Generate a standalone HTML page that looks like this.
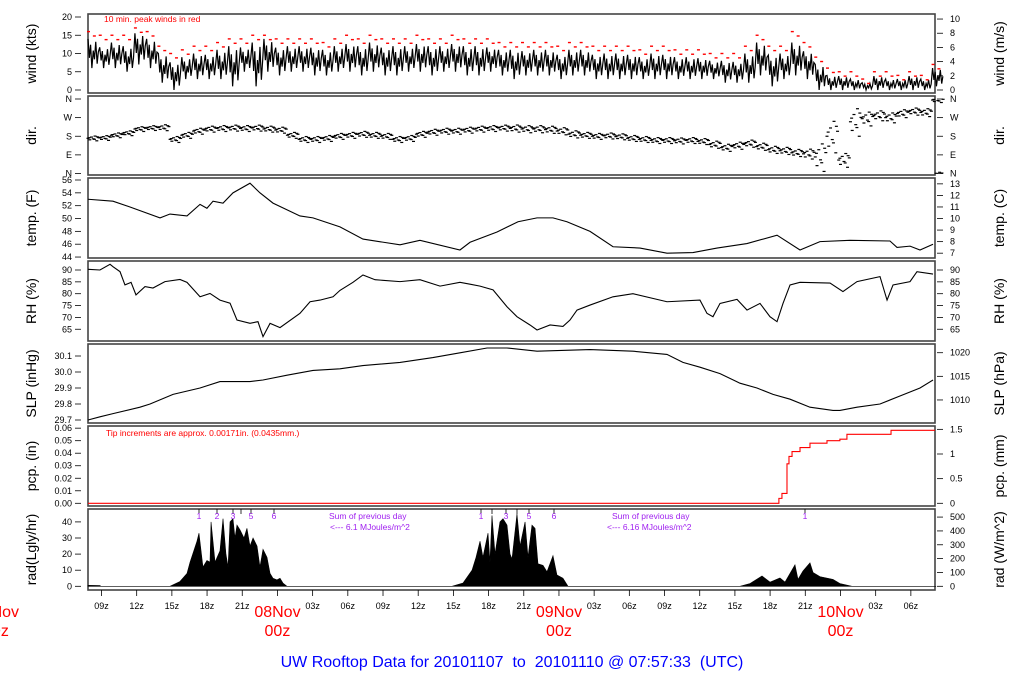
<!DOCTYPE html>
<html><head><meta charset="utf-8"><style>
html,body{margin:0;padding:0;background:#fff;}
svg{display:block;font-family:"Liberation Sans",sans-serif;}
</style></head><body>
<svg id="c" width="1024" height="700" viewBox="0 0 1024 700"></svg>
<script>
// ---- data (time t = hours since record start, 07Nov ~07:51Z) ----
const windHi=[14,12,13,12,16,14,10,8,9,10,10,11,12,12,13,14,12,12,12,12,11,12,13,12,13,12,12,12,13,12,12,13,12,12,12,11,11,11,11,11,10,11,11,10,10,10,10,9,10,10,9,9,9,8,8,8,10,13,10,10,13,11,7,4,4,3,2,4,3,3,4,3,6];
const windLo=[6,6,6,5,7,6,2,0,3,3,3,3,1,5,1,5,4,5,5,4,4,5,5,4,5,4,4,5,5,4,5,5,4,4,5,4,3,4,4,4,3,4,4,3,3,3,3,3,3,3,3,3,3,3,2,2,2,4,1,3,4,3,0,0,0,0,0,0,0,0,0,0,1];
const gust=[16,15,15,15,17,16,12,10,11,12,12,13,14,14,15,15,14,14,14,14,13,14,15,14,15,14,14,14,15,14,14,15,14,14,14,13,13,13,13,13,12,13,13,12,12,12,12,11,12,12,11,11,11,10,10,10,12,15,12,12,16,13,9,6,5,5,3,5,5,4,5,4,7];
const dirDeg=[170,172,185,195,215,220,222,165,185,205,215,218,220,218,220,215,210,185,165,165,170,180,185,190,185,180,165,170,190,200,205,205,210,215,218,220,218,215,215,212,205,190,185,180,182,178,170,165,160,160,158,160,155,140,125,135,145,130,115,110,100,95,80,180,65,250,265,280,270,290,300,295,355];
const dirSpread=[12,12,12,12,12,12,15,15,15,15,15,15,15,15,15,15,15,15,15,15,15,15,15,15,15,15,15,15,15,15,15,15,15,15,15,15,18,18,18,18,18,18,15,15,15,15,15,15,15,15,15,15,15,18,18,18,18,18,18,18,18,25,70,80,35,70,35,25,25,20,18,20,12];
const tempT=[0,2.13,3.58,6.14,6.99,8.44,9.55,10.14,10.66,11.51,12.36,13.81,14.66,15.77,18.07,19.18,21.48,23.44,26.6,28.3,31.71,32.57,34.87,36.66,38.28,39.64,40.83,42.8,44.76,47.06,49.36,51.58,53.62,56.18,58.74,60.7,62.4,64.96,68.37,68.97,70.08,70.93,72.04];
const tempF=[53.0,52.7,51.8,50.1,50.7,50.4,52.2,51.6,52.7,52.4,54.0,55.5,54.0,52.4,50.4,50.1,48.7,46.8,45.9,46.6,45.1,46.3,47.9,49.5,50.1,50.1,49.5,48.0,45.6,45.4,44.6,44.7,45.4,46.1,47.4,45.1,46.4,46.6,46.5,45.5,45.7,45.1,46.0];
const rhT=[0,1.02,1.88,2.13,2.73,3.15,3.67,4.09,4.86,5.54,6.56,7.84,8.44,9.55,10.4,11.25,12.11,12.7,13.81,14.49,14.92,15.52,16.37,18.07,18.93,19.78,20.89,21.48,22.59,23.44,24.47,26.6,28.3,30.01,31.71,32.57,33.42,34.53,35.72,36.57,37.68,38.28,39.39,40.49,41.09,41.69,42.8,44.76,46.46,49.36,52.17,52.77,53.28,53.88,55.33,56.18,57.29,58.14,58.74,59.25,59.85,60.7,63.26,64.36,65.56,67.52,68.12,68.63,70.08,70.67,72.04];
const rhV=[90.3,90,92.4,91.4,89.3,83.7,84.8,79.5,83,82.4,85.1,86,84.8,78.7,80.1,77.3,76,68.9,67.5,68.2,61.9,67.5,65.7,71.7,76.6,77.3,78.7,81.4,84.8,87.9,85.9,85.1,85.9,83.2,84.8,84,83.2,81.6,74.5,70.3,66.8,64.7,66.8,66.2,68.9,73.1,75.2,78.7,80,76.6,77.3,71.7,70.3,75.9,77.6,73.1,75.9,70.3,68.2,75.9,83.7,84.8,84.5,80.9,85.1,87.2,77.3,83.7,85.1,89.3,88.3];
const slpT=[0,1.02,2.13,4.43,5.29,7.25,9.55,11.25,13.81,14.92,16.97,19.18,21.48,23.44,26.6,29.41,31.71,34.02,35.72,38.28,42.8,46.46,49.36,50.72,52.17,53.88,55.58,57.03,58.4,59.85,61.55,63.51,64.1,65.56,67.52,69.22,70.93,72.04];
const slpV=[29.70,29.72,29.74,29.78,29.80,29.86,29.90,29.94,29.94,29.95,29.98,30.01,30.02,30.04,30.06,30.09,30.12,30.15,30.15,30.13,30.14,30.13,30.11,30.06,30.03,29.99,29.93,29.90,29.86,29.83,29.78,29.76,29.76,29.78,29.80,29.85,29.90,29.95];
const pcpT=[0,58.9,59.16,59.51,59.59,59.76,60.02,60.7,61.55,63.0,64.1,64.7,68.46,72.2];
const pcpMM=[0,0.1,0.2,0.2,0.8,0.95,1.05,1.13,1.22,1.27,1.3,1.4,1.48,1.48];
const radT=[0,1.02,1.1,6.99,7.84,8.44,8.70,9.29,9.46,9.80,10.14,10.4,10.49,10.83,11.25,11.51,11.76,11.94,12.11,12.36,12.53,12.70,12.96,13.3,13.55,13.81,14.07,14.41,14.66,14.92,15.26,15.52,15.77,16.11,16.37,16.62,16.97,31.03,31.97,32.74,33.08,33.42,33.67,34.1,34.27,34.44,34.7,35.12,35.38,35.72,35.98,36.15,36.57,36.83,37.26,37.51,37.85,38.11,38.36,38.79,39.13,39.64,39.98,40.49,40.92,55.58,56.44,57.46,58.14,58.99,59.42,60.27,60.53,60.95,61.55,61.81,62.4,63.51,64.1,65.13,72.3];
const radV=[0.6,0.5,0,0,3,8,15,28,33,12,16,15,40,15,22,42,20,12,40,42,30,38,35,30,36,25,30,25,12,23,18,8,5,4,5,2,0,0,2,10,18,28,18,33,15,44,20,40,42,38,20,17,45,25,40,18,38,36,14,13,9,19,7,5,0,0,1.7,6.4,2.6,5.2,2.6,13.3,4.3,9.5,14.6,8.6,6,4.3,1.7,0,0];
const tickLabels=["09z","12z","15z","18z","21z","08Nov","03z","06z","09z","12z","15z","18z","21z","09Nov","03z","06z","09z","12z","15z","18z","21z","10Nov","03z","06z"];
const radMarks1=[["1",199],["2",217],["3",233],["",241],["5",251],["6",274]];
const radMarks2=[["1",481],["",492],["3",506],["",517],["5",529],["6",554]];

const NS="http://www.w3.org/2000/svg";
const svg=document.getElementById('c');
function el(tag,attrs,parent){const e=document.createElementNS(NS,tag);for(const k in attrs)e.setAttribute(k,attrs[k]);(parent||svg).appendChild(e);return e;}
const L=88,R=935;
const X=t=>L+t*11.73;
const yWind=v=>90-v*3.65;
const yDir=d=>173.5-d*74.5/360;
const yTemp=v=>180+(56-v)*6.42;
const yRH=v=>270+(90-v)*2.37;
const ySLP=v=>420-(v-29.7)*160;
const yPcp=v=>503.3-v*49.3;
const yRad=v=>586.3-v*1.61;

const panels=[[14,93,"wind (kts)","wind (m/s)"],[96,175,"dir.","dir."],[178,258,"temp. (F)","temp. (C)"],[261,341,"RH (%)","RH (%)"],[344,423,"SLP (inHg)","SLP (hPa)"],[426,506,"pcp. (in)","pcp. (mm)"],[509,590,"rad(Lgly/hr)","rad (W/m^2)"]];
const pnames=["wind","direction","temperature","humidity","pressure","precipitation","radiation"];
panels.forEach((p,i)=>{
  const g=el('g',{});
  
  
  el('rect',{x:L,y:p[0],width:R-L,height:p[1]-p[0],fill:'none',stroke:'#444','stroke-width':1.6},g);
  const cy=(p[0]+p[1])/2;
  const tl=el('text',{x:0,y:0,transform:`translate(36,${cy}) rotate(-90)`,'text-anchor':'middle','font-size':14,fill:'#000'},g);tl.textContent=p[2];
  
  
  const tr=el('text',{x:0,y:0,transform:`translate(1004,${cy}) rotate(-90)`,'text-anchor':'middle','font-size':14,fill:'#000'},g);tr.textContent=p[3];
  
  
});
function ticks(side,list){
  const g=el('g',{});
  
  
  list.forEach(([y,lab])=>{
    if(side==='left'){el('line',{x1:75,x2:81,y1:y,y2:y,stroke:'#000','stroke-width':0.8},g);
      const t=el('text',{x:72,y:y+3,'text-anchor':'end','font-size':9},g);t.textContent=lab;}
    else{el('line',{x1:937,x2:943,y1:y,y2:y,stroke:'#000','stroke-width':0.8},g);
      const t=el('text',{x:950,y:y+3,'font-size':9},g);t.textContent=lab;}
  });
}
const lt=[],rt=[];
[0,5,10,15,20].forEach(v=>lt.push([yWind(v),String(v)]));
[0,2,4,6,8,10].forEach(v=>rt.push([yWind(v*1.944),String(v)]));
[["N",0],["E",90],["S",180],["W",270],["N",360]].forEach(([l,d])=>{lt.push([yDir(d),l]);rt.push([yDir(d),l]);});
[44,46,48,50,52,54,56].forEach(v=>lt.push([yTemp(v),String(v)]));
[7,8,9,10,11,12,13].forEach(v=>rt.push([yTemp(v*1.8+32),String(v)]));
[65,70,75,80,85,90].forEach(v=>{lt.push([yRH(v),String(v)]);rt.push([yRH(v),String(v)]);});
[29.7,29.8,29.9,30.0,30.1].forEach(v=>lt.push([ySLP(v),v.toFixed(1)]));
[1010,1015,1020].forEach(v=>rt.push([ySLP(v/33.8639),String(v)]));
[0,0.01,0.02,0.03,0.04,0.05,0.06].forEach(v=>lt.push([yPcp(v*25.4),v.toFixed(2)]));
[[0,"0"],[0.5,"0.5"],[1,"1"],[1.5,"1.5"]].forEach(([v,l])=>rt.push([yPcp(v),l]));
[0,10,20,30,40].forEach(v=>lt.push([yRad(v),String(v)]));
[0,100,200,300,400,500].forEach(v=>rt.push([yRad(v/11.63),String(v)]));
ticks('left',lt);ticks('right',rt);

// wind
let wp=[];
const fr=[[0,1],[0.12,0.35],[0.22,0.8],[0.33,0],[0.45,0.6],[0.55,0.3],[0.66,0.9],[0.78,0.15],[0.88,0.55]];
windHi.forEach((h,i)=>{const lo=windLo[i];
  fr.forEach(([dt,f],j)=>{const ff=((i%3)===1&&j%2===0)?f*0.85+0.1:f;wp.push([X(i+dt),yWind(lo+(h-lo)*ff)]);});});
const wl=el('polyline',{points:wp.map(p=>p.join(',')).join(' '),fill:'none',stroke:'#000','stroke-width':1.2});


const gg=el('g',{fill:'#f00'});


gust.forEach((g,i)=>{
  el('rect',{x:X(i)-1,y:yWind(g)-0.7,width:3,height:1.4},gg);
  el('rect',{x:X(i+0.5)-1,y:yWind(Math.max(0,g-1.2))-0.7,width:3,height:1.4},gg);
});
const wt=el('text',{x:104,y:22,'font-size':8.5,fill:'#f00'});wt.textContent="10 min. peak winds in red";



// direction
const dg=el('g',{fill:'#000'});


const offs=[[0,0],[0.15,-0.6],[0.3,0.5],[0.45,-0.2],[0.6,0.9],[0.75,-1],[0.9,0.3],[0.1,0.25],[0.55,-0.4],[0.8,0.6]];
dirDeg.forEach((d,i)=>{offs.forEach(([dt,k])=>{let v=d+k*dirSpread[i];if(v<0)v+=360;if(v>360)v-=360;
  el('rect',{x:X(i+dt)-1.5,y:yDir(v)-0.6,width:3,height:1.2},dg);});});

function line(T,V,fy,name,color,step){
  let pts=[];T.forEach((t,i)=>{if(step&&i>0)pts.push([X(t),fy(V[i-1])]);pts.push([X(t),fy(V[i])]);});
  const p=el('polyline',{points:pts.map(p=>p.join(',')).join(' '),fill:'none',stroke:color,'stroke-width':1.1});
  
  
}
line(tempT,tempF,yTemp,'temperature-line','#000');
line(rhT,rhV,yRH,'humidity-line','#000');
line(slpT,slpV,ySLP,'pressure-line','#000');
line(pcpT,pcpMM,yPcp,'precipitation-line','#f00',true);
const pt=el('text',{x:106,y:436,'font-size':8.5,fill:'#f00'});pt.textContent="Tip increments are approx. 0.00171in. (0.0435mm.)";



// radiation
let rp=[[X(radT[0]),yRad(0)]];radT.forEach((t,i)=>rp.push([X(t),yRad(radV[i])]));rp.push([X(radT[radT.length-1]),yRad(0)]);
const ra=el('polygon',{points:rp.map(p=>p.join(',')).join(' '),fill:'#000',stroke:'#000','stroke-width':0.6});


const hg=el('g',{fill:'#a020f0','font-size':8.5});


[radMarks1,radMarks2,[["1",805]]].forEach(ms=>ms.forEach(([l,x])=>{
  el('line',{x1:x,x2:x,y1:509,y2:514,stroke:'#000','stroke-width':0.8},hg);
  if(l){const t=el('text',{x:x,y:519,'text-anchor':'middle'},hg);t.textContent=l;}
}));
[[329,330,"Sum of previous day","<--- 6.1 MJoules/m^2"],[612,607,"Sum of previous day","<--- 6.16 MJoules/m^2"]].forEach(([x1,x2,a,b])=>{
  const t1=el('text',{x:x1,y:519},hg);t1.textContent=a;
  const t2=el('text',{x:x2,y:530},hg);t2.textContent=b;
});

// x axis
const xg=el('g',{});


tickLabels.forEach((lab,i)=>{const t=1.15+3*i,x=X(t);
  el('line',{x1:x,x2:x,y1:590,y2:596,stroke:'#000','stroke-width':0.8},xg);
  if(lab.indexOf('Nov')>0){
    const a=el('text',{x:x,y:617,'text-anchor':'middle','font-size':16,fill:'#f00'},xg);a.textContent=lab;
    const b=el('text',{x:x,y:636,'text-anchor':'middle','font-size':16,fill:'#f00'},xg);b.textContent="00z";
  } else {const a=el('text',{x:x,y:609,'text-anchor':'middle','font-size':9},xg);a.textContent=lab;}
});
const d0=el('text',{x:X(1.15-9),y:617,'text-anchor':'middle','font-size':16,fill:'#f00'},xg);d0.textContent="07Nov";
const d1=el('text',{x:X(1.15-9),y:636,'text-anchor':'middle','font-size':16,fill:'#f00'},xg);d1.textContent="00z";
const ti=el('text',{x:512,y:667,'text-anchor':'middle','font-size':16,fill:'#0000ff',style:'white-space:pre'});
ti.textContent="UW Rooftop Data for 20101107  to  20101110 @ 07:57:33  (UTC)";


</script>
</body></html>
